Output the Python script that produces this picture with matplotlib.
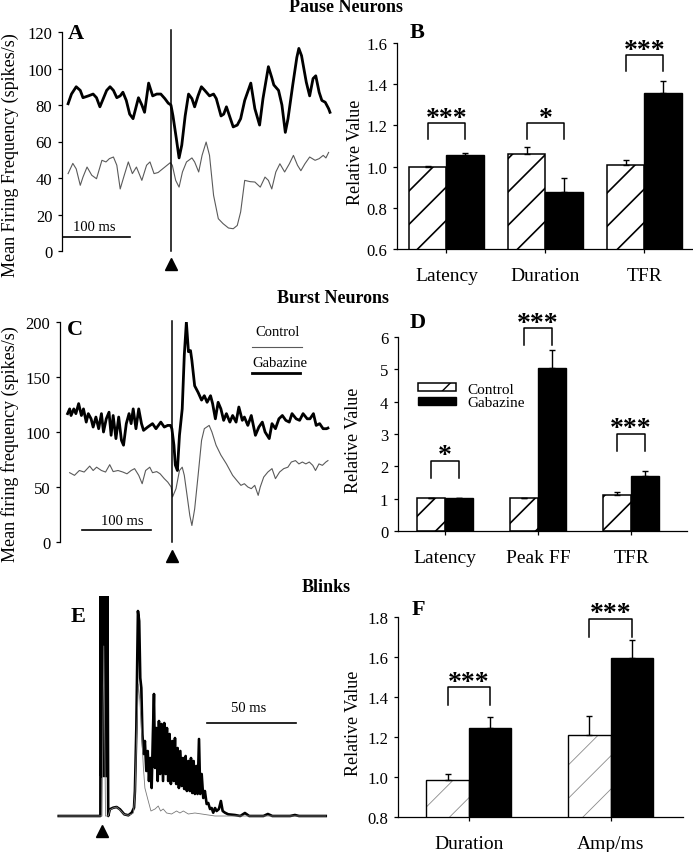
"""Pause neurons, burst neurons and blinks: control vs gabazine."""

import numpy as np
import matplotlib

matplotlib.use("Agg")
import matplotlib.pyplot as plt

plt.rcParams["font.family"] = ["Liberation Serif", "DejaVu Serif"]

# ---- panel A: pause neuron firing (time in ms, event at 0) ----
A_T_GAB = [-152, -147, -140, -134, -130, -122, -115, -110, -105, -100, -95, -90, -85, -80, -75,
           -71, -66, -61, -56, -48, -43, -39, -33, -27, -21, -15, -9, -4, 0, 3, 8, 12, 16, 21, 26,
           31, 35, 40, 45, 50, 57, 63, 67, 74, 78, 82, 87, 92, 98, 103, 109, 118, 124, 131, 136,
           144, 149, 152, 159, 164, 169, 173, 180, 186, 189, 193, 200, 205, 210, 214, 219, 223,
           228, 233, 235]
A_V_GAB = [80.7, 86, 90, 88, 84, 85, 86, 84, 79, 83.5, 88, 90, 88, 84, 85, 87, 82.5, 75, 72.5,
           84, 80, 76, 92, 85, 86, 86, 83.5, 81, 80, 74, 61.5, 51, 58, 74, 86, 83.5, 79, 85, 90,
           88, 85, 86, 83.5, 74, 75, 79, 73.5, 68, 69, 72.5, 82.5, 92, 78, 69, 83.5, 101, 95, 91,
           88, 80, 65, 72.5, 91, 106, 111, 107, 92.5, 85, 94.5, 96, 87, 82.5, 81.5, 78, 76]
A_T_CTRL = [-152, -145, -140, -134, -130, -124, -117, -110, -102, -96, -91, -85, -80, -75, -69,
            -63, -57, -51, -43, -36, -31, -25, -19, -9, -1, 2, 7, 12, 17, 23, 31, 35, 41, 46, 52,
            57, 63, 70, 77, 85, 92, 98, 103, 109, 117, 124, 132, 139, 144, 149, 155, 161, 168,
            175, 181, 187, 192, 198, 205, 213, 219, 225, 229, 233]
A_V_CTRL = [42.4, 48, 45, 36, 40.5, 46, 41.5, 39.6, 49.7, 48.8, 50.6, 51.5, 47, 34, 41.5, 48.8,
            42.4, 46, 38.7, 47, 48.8, 42.4, 43, 46, 48.4, 47, 38.7, 35, 43.3, 48.8, 51, 48.8, 43.3,
            52.4, 59.7, 52.4, 30.5, 17.7, 15, 12.6, 12.2, 14, 21.4, 38.7, 38, 37.8, 35, 40.5, 38.7,
            34, 43.3, 47.8, 43.3, 47.8, 52.4, 47, 44, 47.8, 51.5, 49.7, 50.6, 52.4, 51, 54]

# ---- panel C: burst neuron firing ----
C_T_GAB = [-151, -148, -146, -142, -139, -135, -131, -128, -124, -121, -117, -114, -110, -106,
           -102, -99, -95, -91, -88, -85, -81, -77, -73, -70, -66, -62, -59, -56, -52, -48, -44,
           -41, -35, -28, -23, -16, -11, -6, -2, 0, 3, 5, 8, 11, 15, 18, 21, 24, 27, 29, 33, 38,
           43, 47, 51, 56, 59, 63, 67, 71, 75, 79, 84, 88, 93, 97, 102, 105, 110, 115, 121, 126,
           131, 135, 141, 145, 150, 155, 160, 165, 170, 174, 180, 185, 190, 196, 200, 205, 209,
           214, 219, 224, 226]
C_V_GAB = [116.7, 121, 115, 121, 116.7, 125.8, 115, 121, 109, 116.7, 112, 104.5, 113.6, 103,
           116.7, 100, 112, 118, 97, 115, 94, 113.6, 92.4, 88, 107.6, 116.7, 107.6, 121, 103, 121,
           107.6, 101.5, 104.5, 107.6, 103, 109, 104.5, 106, 106, 103, 88, 70, 65, 97, 121, 170,
           200, 173, 174, 165, 142, 136, 129, 133, 127, 133, 125.8, 112, 127, 121, 110.6, 116.7,
           109, 115, 109, 122.7, 110.6, 113.6, 106, 115, 97, 104.5, 109, 100, 94, 107.6, 103, 112,
           115, 110.6, 109, 116.7, 112, 110.6, 116.7, 112, 112, 116.7, 106, 107.6, 103, 103, 103.6]
C_T_CTRL = [-148, -141, -134, -127, -119, -114, -109, -102, -96, -90, -85, -78, -71, -65, -59,
            -54, -48, -43, -38, -32, -28, -22, -17, -11, -6, -1, 1, 6, 11, 15, 18, 22, 26, 29, 33,
            38, 43, 47, 54, 58, 64, 71, 79, 88, 94, 100, 105, 110, 115, 120, 125, 128, 133, 139,
            145, 150, 156, 162, 168, 173, 179, 184, 189, 194, 199, 204, 208, 213, 218, 223, 226]
C_V_CTRL = [63, 60.6, 65, 63.6, 69, 65, 68, 65, 63.6, 70.3, 64, 65, 63.6, 62, 65, 66.7, 60.6, 53,
            65, 68, 63, 64, 62, 57.6, 54.5, 50, 41, 48.5, 65, 68, 60.6, 42.4, 24, 15, 30, 60.6,
            92.4, 103, 106, 100, 88, 79, 71, 60.6, 56, 51.5, 53, 50, 48.5, 51.5, 42.4, 50, 59,
            63.6, 66.7, 57.6, 63.6, 66.7, 68, 72.7, 74, 71, 72.7, 71, 72.7, 69.7, 65, 71, 69.7,
            72.7, 74]

# ---- panel E: blink traces (arbitrary amplitude; the first spike is off scale) ----
E_T_GAB = [-24, -0.6, -0.4, -0.1, 0.2, 0.5, 0.8, 1.1, 1.4, 1.7, 2.0, 2.3, 2.6, 2.9, 3.2, 3.8,
           4.7, 6.6, 8.5, 10.4, 12.8, 15.1,
           17.0, 18.3, 18.8, 19.6, 20.1, 20.5, 21.2, 21.8, 22.4, 23.0, 23.7, 24.4, 25.2, 26.0,
           26.7, 27.4, 28.2, 28.9, 29.5, 30.1, 30.8, 31.6, 32.3, 33.0, 33.8, 34.6, 35.3, 36.1,
           36.8, 37.5, 38.3, 39.0, 39.8, 40.6, 41.3, 42.0, 42.8, 43.5, 44.3, 45.1, 45.8, 46.5,
           47.3, 48.0, 48.8, 49.6, 50.3, 51.0, 51.8, 52.5, 53.3, 54.0, 54.8, 55.5, 56.3, 57.2,
           58.1, 59.1, 60.0, 61.0, 61.9, 62.8, 63.8, 64.7, 66.0, 67.1, 68.1, 69.4, 71.2, 75.0,
           78.0, 80.6, 83.0, 91.0, 93.5, 96.0, 106.0, 108.7, 111.0, 126.0]
E_V_GAB = [0, 0, 300, 40, 300, 40, 300, 40, 300, 40, 300, 40, 300, 40, 300, 0,
           6.7, 8.3, 9, 6.7, 1.7, 0.7,
           3.3, 8.3, 25, 88,
           155, 205, 195, 138, 128, 82, 62, 75, 45, 65, 35, 58, 28, 82, 122, 48, 88, 35, 95, 42,
           92, 35, 93, 42, 88, 35, 82, 32, 75, 35, 78, 32, 68, 28, 65, 30, 58, 27, 60, 25, 55, 25,
           58, 23, 55, 22, 50, 22, 77, 22, 42, 18, 25, 12, 13, 7, 8, 3.3, 8, 5, 7, 15, 5, 3.3,
           1.7, 1, 0, 3, 0, 0, 2, 0, 0, 1, 0, 0]
E_T_CTRL = [-24, 0.3, 1.3, 2.3, 3.8, 4.7, 6.6, 8.5, 10.4, 12.8, 15.1, 17.0, 17.9, 18.8, 19.8,
            20.7, 21.6, 22.6, 23.5, 24.4, 26.0, 27.8, 30.1, 31.9, 33.2, 34.7, 36.6, 39.4, 42.2,
            44.1, 46.0, 48.8, 52.5, 56.3, 60.0, 63.8, 126.0]
E_V_CTRL = [0, 0, 170, 0, 0, 6, 8, 9, 6, 1.5, 0.7, 2, 3, 20, 80, 132, 115, 82, 50, 28, 17, 5, 7,
            10, 5, 7, 3, 2, 5, 3, 5, 2, 3, 2, 1, 0, 0]

# ---- bar panels: relative values (control vs gabazine) ----
B_CATS = ["Latency", "Duration", "TFR"]
B_CTRL = [1.00, 1.06, 1.01]
B_CTRL_ERR = [0.004, 0.034, 0.02]
B_GAB = [1.055, 0.875, 1.355]
B_GAB_ERR = [0.012, 0.07, 0.06]
B_SIG = ["***", "*", "***"]
B_SIG_Y = [1.21, 1.21, 1.54]

D_CATS = ["Latency", "Peak FF", "TFR"]
D_CTRL = [1.03, 1.02, 1.11]
D_CTRL_ERR = [0.0, 0.0, 0.09]
D_GAB = [1.02, 5.05, 1.69]
D_GAB_ERR = [0.0, 0.55, 0.16]
D_SIG = ["*", "***", "***"]
D_SIG_Y = [2.18, 6.27, 3.0]

F_CATS = ["Duration", "Amp/ms"]
F_CTRL = [0.986, 1.211]
F_CTRL_ERR = [0.028, 0.092]
F_GAB = [1.245, 1.596]
F_GAB_ERR = [0.053, 0.087]
F_SIG = ["***", "***"]
F_SIG_Y = [1.449, 1.79]

W, H = 693, 853
fig = plt.figure(figsize=(W / 100, H / 100), dpi=100)


def px_axes(left, top, right, bottom):
    """Add an axes given its box in image pixels (origin top-left)."""
    return fig.add_axes([left / W, 1 - bottom / H, (right - left) / W, (bottom - top) / H])


def style_left_only(ax):
    for side in ("top", "right", "bottom"):
        ax.spines[side].set_visible(False)
    ax.spines["left"].set_linewidth(0.9)
    ax.tick_params(axis="y", direction="out", length=3, width=0.9, labelsize=12, pad=4)
    ax.set_xticks([])


def bar_panel(ax, cats, ctrl, ctrl_err, gab, gab_err, sig, sig_y, width, ylim, yticks, fmt,
              drop, light_hatch=False):
    x = np.arange(len(cats))
    if light_hatch:
        hatched = ax.bar(x - width / 2, ctrl, width, color="white", edgecolor="#8a8a8a",
                         hatch="/", linewidth=0)
        ax.bar(x - width / 2, ctrl, width, fill=False, edgecolor="black", linewidth=1.0)
        hatch_lw = 0.6
    else:
        hatched = ax.bar(x - width / 2, ctrl, width, color="white", edgecolor="black",
                         hatch="/", linewidth=1.1)
        hatch_lw = 1.2
    for patch in hatched:
        if hasattr(patch, "set_hatch_linewidth"):
            patch.set_hatch_linewidth(hatch_lw)
    solid = ax.bar(x + width / 2, gab, width, color="black", edgecolor="black", linewidth=1.0)
    ax.errorbar(x - width / 2, ctrl, yerr=[np.zeros(len(x)), ctrl_err], fmt="none",
                ecolor="black", elinewidth=1.0, capsize=2.5, capthick=1.0)
    ax.errorbar(x + width / 2, gab, yerr=[np.zeros(len(x)), gab_err], fmt="none",
                ecolor="black", elinewidth=1.0, capsize=2.5, capthick=1.0)
    for xi, stars, y in zip(x, sig, sig_y):
        x0, x1 = xi - width / 2, xi + width / 2
        ax.plot([x0, x0, x1, x1], [y - drop, y, y, y - drop], color="black", lw=1.1,
                clip_on=False)
        ax.annotate(stars, (xi, y), xytext=(0, -1), textcoords="offset points", ha="center",
                    va="baseline", fontsize=20, fontweight="bold", annotation_clip=False)
    ax.set_ylim(*ylim)
    ax.set_yticks(yticks)
    ax.set_yticklabels([fmt.format(v) for v in yticks])
    ax.set_xticks(x)
    ax.set_xticklabels(cats, fontsize=14)
    for side in ("top", "right"):
        ax.spines[side].set_visible(False)
    for side in ("left", "bottom"):
        ax.spines[side].set_linewidth(0.9)
    ax.tick_params(axis="y", direction="out", length=3, width=0.9, labelsize=12, pad=4)
    ax.tick_params(axis="x", direction="out", length=3, width=0.9, pad=10)
    return hatched, solid


def ylabel(text, x, y):
    fig.text(x / W, 1 - y / H, text, rotation=90, ha="center", va="center", fontsize=13)


def letter(text, x, y):
    fig.text(x / W, 1 - y / H, text, ha="center", va="center", fontsize=16, fontweight="bold")


def title(text, x, y):
    fig.text(x / W, 1 - y / H, text, ha="center", va="center", fontsize=13, fontweight="bold")


# Panel A
ax_a = px_axes(62, 33, 332, 252)
ax_a.plot(A_T_CTRL, A_V_CTRL, color="#5a5a5a", lw=0.8)
ax_a.plot(A_T_GAB, A_V_GAB, color="black", lw=2.0)
ax_a.plot([0, 0], [0, 121], color="black", lw=1.1, clip_on=False)
ax_a.plot(0, -7, marker="^", color="black", ms=9, clip_on=False)
ax_a.plot([-161, -61], [7.8, 7.8], color="black", lw=1.2)
ax_a.text(-114, 13.5, "100 ms", ha="center", va="center", fontsize=10.5)
ax_a.set_xlim(-161, 238)
ax_a.set_ylim(0, 120)
ax_a.set_yticks(range(0, 121, 20))
style_left_only(ax_a)

# Panel B
ax_b = px_axes(397, 44, 692, 250)
bar_panel(ax_b, B_CATS, B_CTRL, B_CTRL_ERR, B_GAB, B_GAB_ERR, B_SIG, B_SIG_Y, 0.38,
          (0.6, 1.6), [0.6, 0.8, 1.0, 1.2, 1.4, 1.6], "{:.1f}", 0.075)
ax_b.set_xlim(-0.5, 2.48)

# Panel C
ax_c = px_axes(60, 323, 330, 543)
ax_c.plot(C_T_CTRL, C_V_CTRL, color="#5a5a5a", lw=0.8)
ax_c.plot(C_T_GAB, C_V_GAB, color="black", lw=2.0)
ax_c.plot([0, 0], [0, 201], color="black", lw=1.1, clip_on=False)
ax_c.plot(0, -12.7, marker="^", color="black", ms=9, clip_on=False)
ax_c.plot([-130, -30], [10.6, 10.6], color="black", lw=1.2)
ax_c.text(-72, 19.4, "100 ms", ha="center", va="center", fontsize=10.5)
ax_c.text(0.807, 0.955, "Control", transform=ax_c.transAxes, ha="center", va="center",
          fontsize=10.5)
ax_c.plot([0.711, 0.896], [0.886, 0.886], transform=ax_c.transAxes, color="#5a5a5a", lw=0.8)
ax_c.text(0.815, 0.818, "Gabazine", transform=ax_c.transAxes, ha="center", va="center",
          fontsize=10.5)
ax_c.plot([0.711, 0.889], [0.768, 0.768], transform=ax_c.transAxes, color="black", lw=2.0)
ax_c.set_xlim(-162, 229)
ax_c.set_ylim(0, 200)
ax_c.set_yticks(range(0, 201, 50))
style_left_only(ax_c)

# Panel D
ax_d = px_axes(398, 338, 687, 532)
hatched, solid = bar_panel(ax_d, D_CATS, D_CTRL, D_CTRL_ERR, D_GAB, D_GAB_ERR, D_SIG, D_SIG_Y,
                           0.3, (0, 6), list(range(7)), "{:d}", 0.53)
ax_d.set_xlim(-0.5, 2.6)
ax_d.legend([hatched, solid], ["Control", "Gabazine"], loc="upper left",
            bbox_to_anchor=(0.07, 0.765), frameon=False, fontsize=11, handlelength=2.5,
            handleheight=0.45, handletextpad=0.7, labelspacing=0.05, borderpad=0,
            borderaxespad=0)

# Panel E
ax_e = px_axes(55, 597, 330, 837)
ax_e.plot(E_T_GAB, E_V_GAB, color="black", lw=1.9)
ax_e.plot(E_T_CTRL, E_V_CTRL, color="#7a7a7a", lw=0.6)
ax_e.plot(0.3, -15, marker="^", color="black", ms=9, clip_on=False)
ax_e.plot([59.3, 109.3], [93, 93], color="black", lw=1.2)
ax_e.text(82.5, 109, "50 ms", ha="center", va="center", fontsize=10.5)
ax_e.set_xlim(-26.1, 128.4)
ax_e.set_ylim(-20, 220)
ax_e.axis("off")

# Panel F
ax_f = px_axes(398, 618, 683, 818)
bar_panel(ax_f, F_CATS, F_CTRL, F_CTRL_ERR, F_GAB, F_GAB_ERR, F_SIG, F_SIG_Y, 0.3,
          (0.8, 1.8), [0.8, 1.0, 1.2, 1.4, 1.6, 1.8], "{:.1f}", 0.09, light_hatch=True)
ax_f.set_xlim(-0.5, 1.51)

ylabel("Mean Firing Frequency (spikes/s)", 10, 155)
ylabel("Mean firing frequency (spikes/s)", 10, 444)
ylabel("Relative Value", 355, 152)
ylabel("Relative Value", 353, 440)
ylabel("Relative Value", 353, 723)

letter("A", 76, 34)
letter("B", 417, 33)
letter("C", 75, 330)
letter("D", 418, 323)
letter("E", 78, 617)
letter("F", 418, 610)

title("Pause Neurons", 346, 8)
title("Burst Neurons", 333, 299)
title("Blinks", 326, 587)

fig.savefig("out.png", dpi=100)
